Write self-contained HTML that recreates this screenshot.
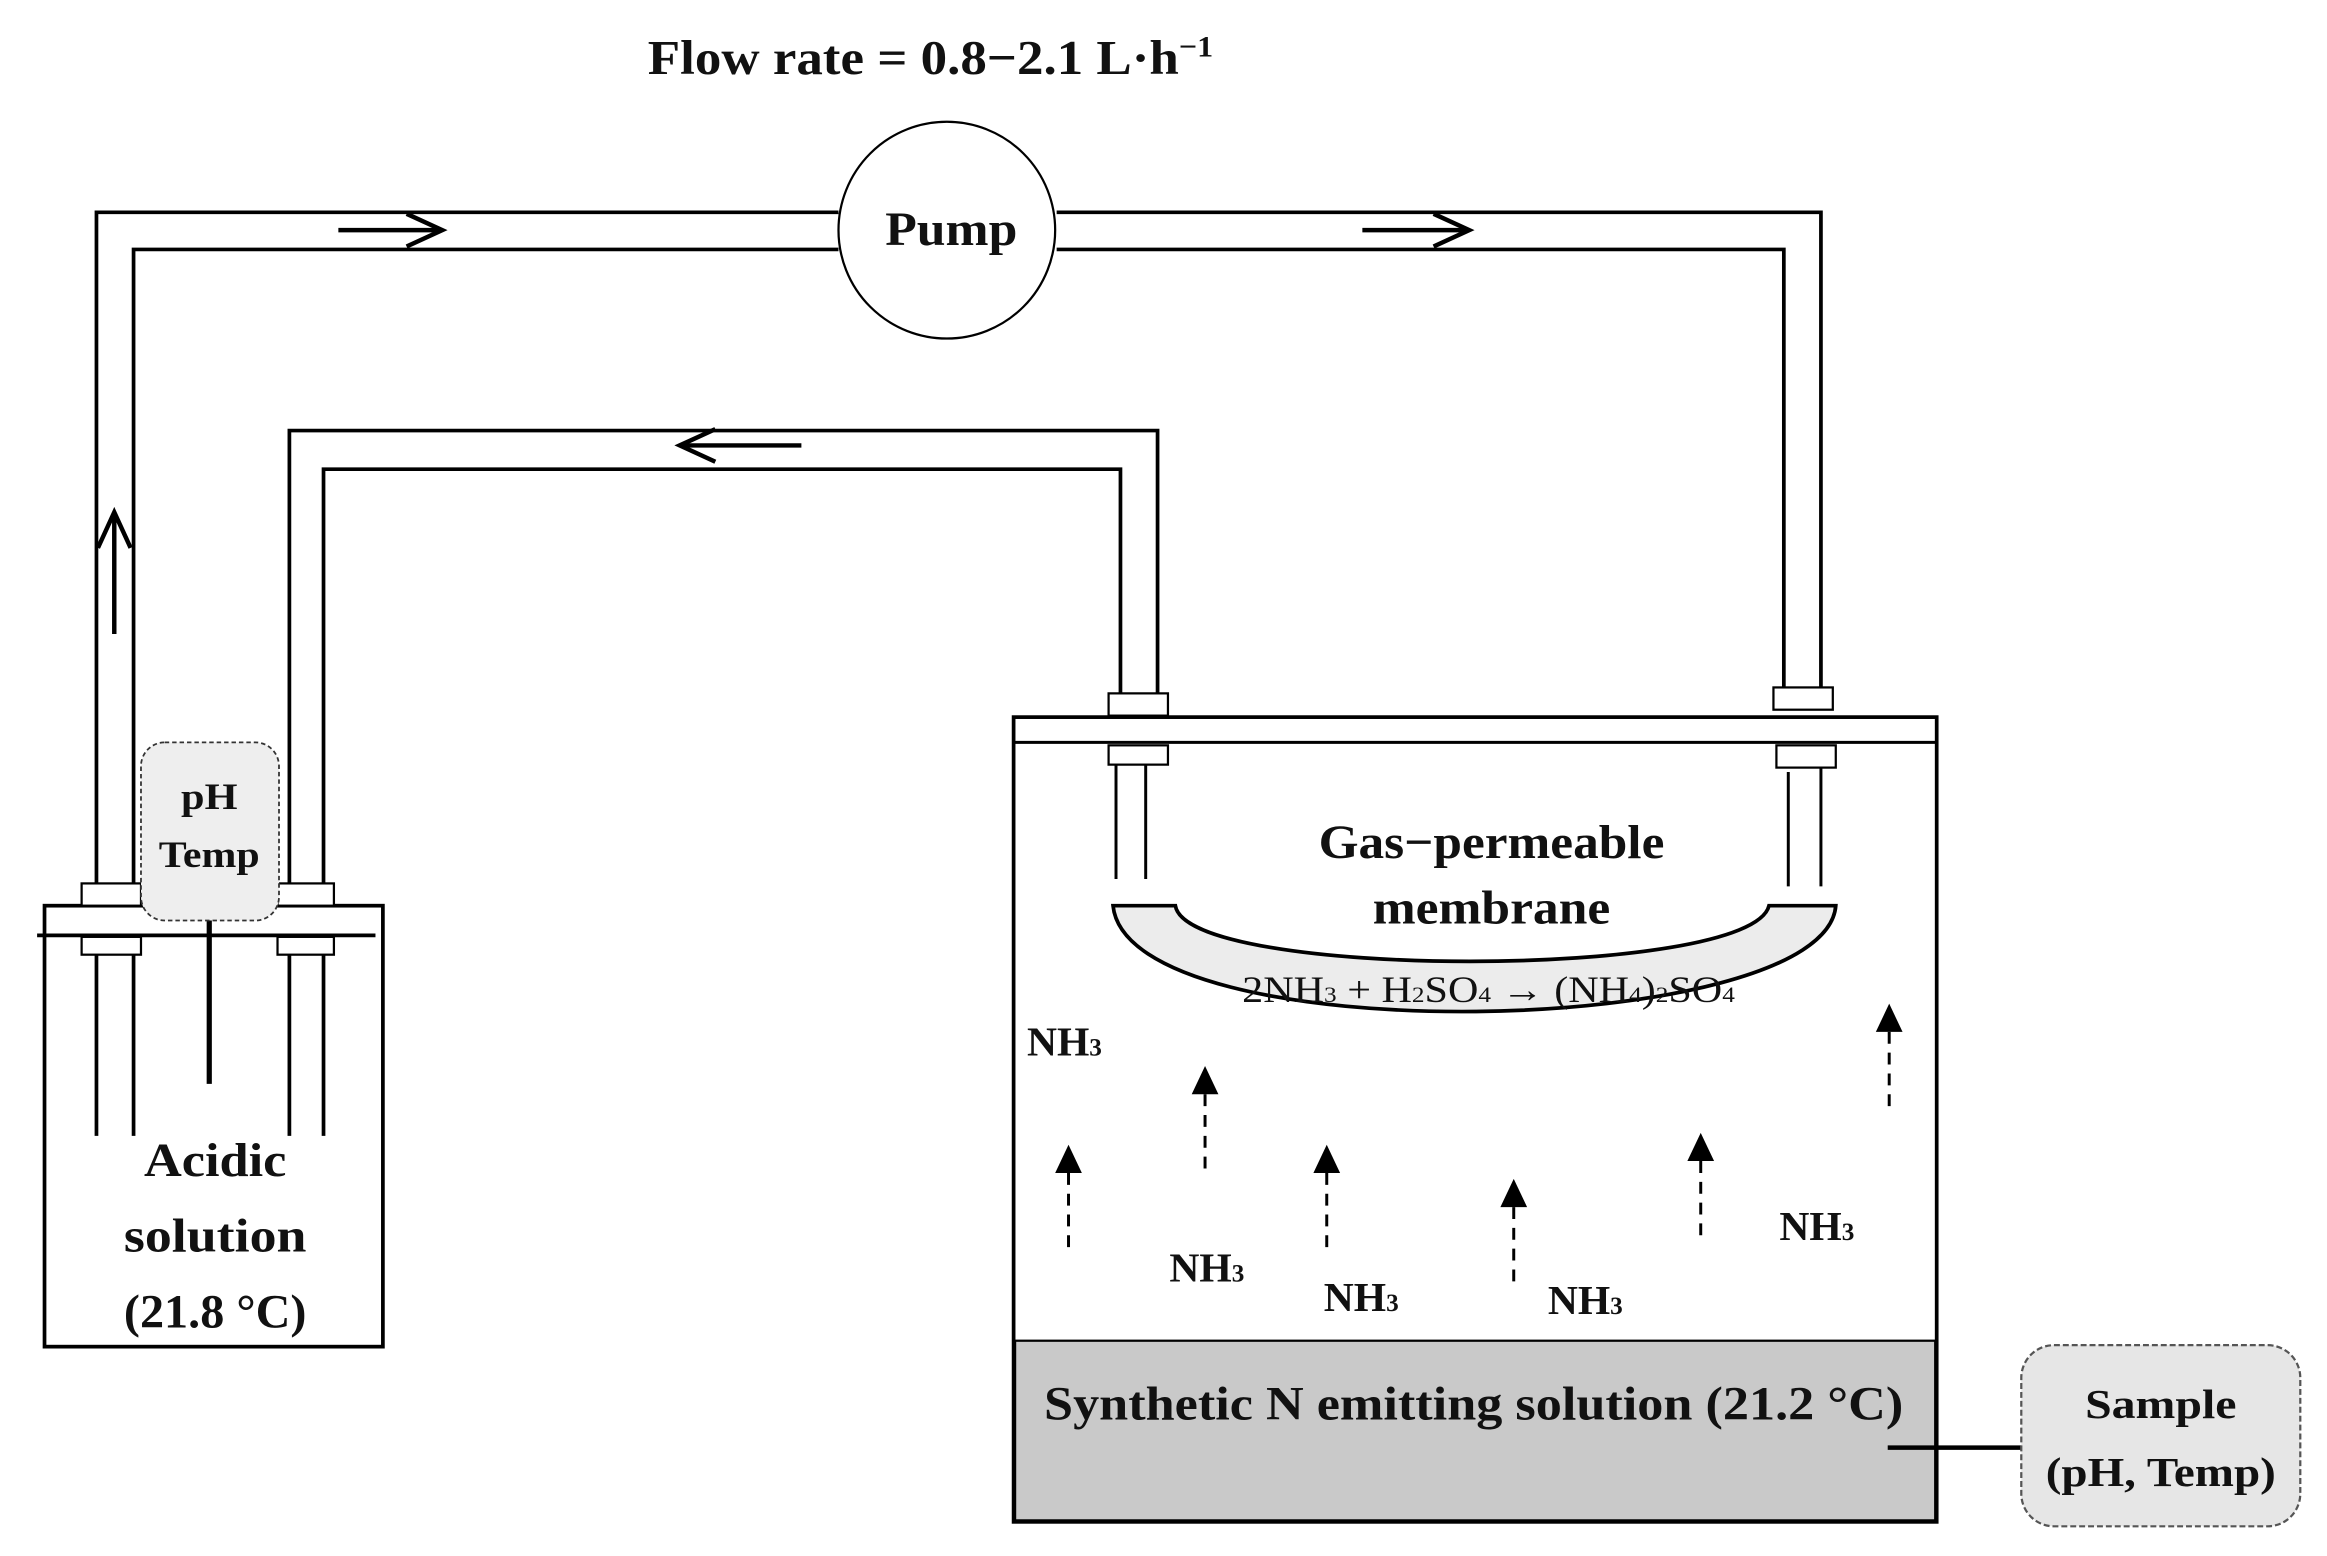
<!DOCTYPE html>
<html><head><meta charset="utf-8"><style>html,body{margin:0;padding:0;background:#fff}svg{display:block}text{font-family:"Liberation Serif",serif;font-weight:bold;fill:#111}</style></head><body>
<svg width="2327" height="1556" viewBox="0 0 1568 1048" preserveAspectRatio="none" xmlns="http://www.w3.org/2000/svg">
<text x="627" y="50" font-size="33" text-anchor="middle" textLength="381" lengthAdjust="spacingAndGlyphs">Flow rate = 0.8−2.1 L·h<tspan font-size="20" dy="-12">−1</tspan></text>
<g fill="none" stroke="#000" stroke-width="2.5">
<polyline points="65,595 65,143 565,143"/>
<polyline points="712,143 1227,143 1227,465"/>
<polyline points="90,595 90,168 565,168"/>
<polyline points="712,168 1202,168 1202,465"/>
<polyline points="195,595 195,290 780,290 780,467"/>
<polyline points="218,595 218,316 755,316 755,467"/>
<circle cx="638" cy="155" r="73" stroke-width="1.5"/>
<line x1="228" y1="155" x2="296" y2="155" stroke-width="3"/><polyline points="274,144 298,155 274,166" stroke-width="3"/>
<line x1="918" y1="155" x2="988" y2="155" stroke-width="3"/><polyline points="966,144 990,155 966,166" stroke-width="3"/>
<line x1="540" y1="300" x2="460" y2="300" stroke-width="3"/><polyline points="482,289 458,300 482,311" stroke-width="3"/>
<line x1="77" y1="427" x2="77" y2="347" stroke-width="3"/><polyline points="66,369 77,345 88,369" stroke-width="3"/>
<rect x="683" y="483" width="622" height="542" stroke-width="2.5"/>
<line x1="683" y1="500" x2="1305" y2="500" stroke-width="2"/>
</g>
<rect x="684" y="903" width="620" height="121" fill="#c9c9c9" stroke="#000" stroke-width="1.5"/>
<g fill="#fff" stroke="#000" stroke-width="1.5">
<rect x="747" y="467" width="40" height="15"/>
<rect x="1195" y="463" width="40" height="15"/>
<rect x="747" y="502" width="40" height="13"/>
<rect x="1197" y="502" width="40" height="15"/>
</g>
<g stroke="#000" stroke-width="2">
<line x1="752" y1="515" x2="752" y2="592"/><line x1="772" y1="515" x2="772" y2="592"/>
<line x1="1205" y1="520" x2="1205" y2="597"/><line x1="1227" y1="517" x2="1227" y2="597"/>
</g>
<path d="M750,610 L792,610 C800,660 1180,660 1192,610 L1237,610 C1230,700 760,710 750,610 Z" fill="#ececec" stroke="#000" stroke-width="2.5"/>
<text x="1005" y="578" font-size="32" text-anchor="middle" textLength="233" lengthAdjust="spacingAndGlyphs">Gas−permeable</text>
<text x="1005" y="622" font-size="32" text-anchor="middle" textLength="160" lengthAdjust="spacingAndGlyphs">membrane</text>
<text x="1003" y="675" font-size="25" text-anchor="middle" style="font-weight:normal" textLength="332" lengthAdjust="spacingAndGlyphs">2NH<tspan font-size="15">3</tspan> + H<tspan font-size="15">2</tspan>SO<tspan font-size="15">4</tspan> → (NH<tspan font-size="15">4</tspan>)<tspan font-size="15">2</tspan>SO<tspan font-size="15">4</tspan></text>
<text x="993" y="956" font-size="32" text-anchor="middle" textLength="579" lengthAdjust="spacingAndGlyphs">Synthetic N emitting solution (21.2 °C)</text>
<line x1="1272" y1="975" x2="1362" y2="975" stroke="#000" stroke-width="3"/>
<rect x="1362" y="906" width="188" height="122" rx="22" fill="#e6e6e6" stroke="#555" stroke-width="1.5" stroke-dasharray="4,2"/>
<text x="1456" y="955" font-size="28" text-anchor="middle" textLength="102" lengthAdjust="spacingAndGlyphs">Sample</text>
<text x="1456" y="1001" font-size="28" text-anchor="middle" textLength="155" lengthAdjust="spacingAndGlyphs">(pH, Temp)</text>
<g font-size="28">
<text x="692" y="711">NH<tspan font-size="17">3</tspan></text>
<text x="788" y="863">NH<tspan font-size="17">3</tspan></text>
<text x="892" y="883">NH<tspan font-size="17">3</tspan></text>
<text x="1043" y="885">NH<tspan font-size="17">3</tspan></text>
<text x="1199" y="835">NH<tspan font-size="17">3</tspan></text>
</g>
<g stroke="#000" stroke-width="2" stroke-dasharray="8,6">
<line x1="720" y1="790" x2="720" y2="842"/>
<line x1="812" y1="737" x2="812" y2="787"/>
<line x1="894" y1="790" x2="894" y2="842"/>
<line x1="1020" y1="813" x2="1020" y2="864"/>
<line x1="1146" y1="782" x2="1146" y2="834"/>
<line x1="1273" y1="695" x2="1273" y2="747"/>
</g>
<g fill="#000">
<polygon points="711,790 729,790 720,771"/>
<polygon points="803,737 821,737 812,718"/>
<polygon points="885,790 903,790 894,771"/>
<polygon points="1011,813 1029,813 1020,794"/>
<polygon points="1137,782 1155,782 1146,763"/>
<polygon points="1264,695 1282,695 1273,676"/>
</g>
<rect x="30" y="610" width="228" height="297" fill="none" stroke="#000" stroke-width="2.5"/>
<line x1="25" y1="630" x2="253" y2="630" stroke="#000" stroke-width="2.5"/>
<g fill="#fff" stroke="#000" stroke-width="1.5">
<rect x="55" y="595" width="40" height="15"/>
<rect x="187" y="595" width="38" height="15"/>
<rect x="55" y="631" width="40" height="12"/>
<rect x="187" y="631" width="38" height="12"/>
</g>
<g stroke="#000" stroke-width="2.5">
<line x1="65" y1="643" x2="65" y2="765"/><line x1="90" y1="643" x2="90" y2="765"/>
<line x1="195" y1="643" x2="195" y2="765"/><line x1="218" y1="643" x2="218" y2="765"/>
<line x1="141" y1="618" x2="141" y2="730" stroke-width="3.5"/>
</g>
<rect x="95" y="500" width="93" height="120" rx="16" fill="#eeeeee" stroke="#333" stroke-width="1.2" stroke-dasharray="3,2"/>
<text x="141" y="545" font-size="25" text-anchor="middle" textLength="38" lengthAdjust="spacingAndGlyphs">pH</text>
<text x="141" y="584" font-size="25" text-anchor="middle" textLength="68" lengthAdjust="spacingAndGlyphs">Temp</text>
<text x="145" y="792" font-size="32" text-anchor="middle" textLength="96" lengthAdjust="spacingAndGlyphs">Acidic</text>
<text x="145" y="843" font-size="32" text-anchor="middle" textLength="123" lengthAdjust="spacingAndGlyphs">solution</text>
<text x="145" y="894" font-size="32" text-anchor="middle" textLength="123" lengthAdjust="spacingAndGlyphs">(21.8 °C)</text>
<text x="641" y="165" font-size="32" text-anchor="middle" textLength="89" lengthAdjust="spacingAndGlyphs">Pump</text>
</svg>
</body></html>
